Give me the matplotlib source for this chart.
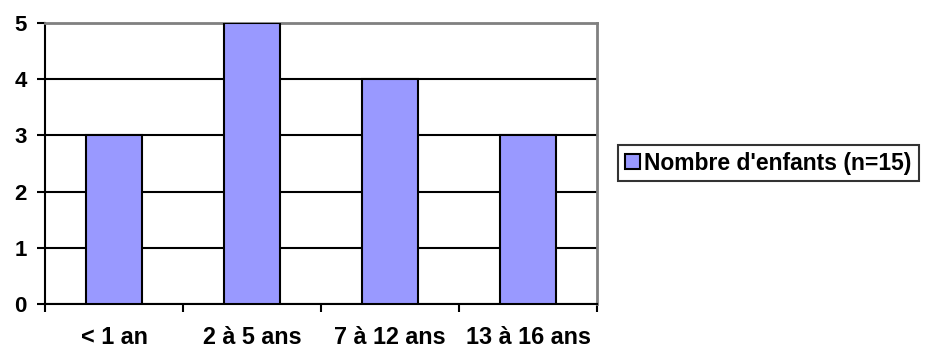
import numpy as np
import matplotlib.pyplot as plt
from matplotlib.ticker import FixedLocator

plt.rcParams['font.family'] = ['Liberation Sans', 'DejaVu Sans']

categories = ['< 1 an', '2 à 5 ans', '7 à 12 ans', '13 à 16 ans']
nombre = [3, 5, 4, 3]
serie = "Nombre d'enfants (n=15)"

fig = plt.figure(figsize=(9.25, 3.48), dpi=100)
ax = fig.add_axes([45/925, 44/348, 552/925, 281/348])

x = np.arange(len(categories))
bars = ax.bar(x, nombre, width=0.4, color='#9999FF', edgecolor='black',
              linewidth=1.5, zorder=3, label=serie)

ax.set_xlim(-0.5, len(categories) - 0.5)
ax.set_ylim(0, 5)
ax.set_yticks(range(0, 6))
ax.yaxis.grid(True, color='black', linewidth=1.5, zorder=0)
ax.set_axisbelow(True)

ax.set_xticks(x)
ax.set_xticklabels(categories, fontsize=16.8, fontweight='bold')
ax.xaxis.set_minor_locator(FixedLocator(np.arange(-0.5, len(categories), 1.0)))
ax.tick_params(axis='x', which='major', length=0, pad=16)
ax.tick_params(axis='x', which='minor', length=6, width=1.5, direction='out')
ax.tick_params(axis='y', length=6, width=1.5, pad=7, labelsize=16)
for t in ax.get_yticklabels():
    t.set_fontweight('bold')

for s in ['left', 'bottom']:
    ax.spines[s].set_color('black')
    ax.spines[s].set_linewidth(1.5)
for s in ['top', 'right']:
    ax.spines[s].set_color('#808080')
    ax.spines[s].set_linewidth(2)

leg = fig.legend(loc='center left', bbox_to_anchor=(618/925, 1 - 163/348),
                 frameon=True, fancybox=False, edgecolor='black',
                 prop={'weight': 'bold', 'size': 16.5}, handlelength=0.65,
                 handleheight=0.65, handletextpad=0.2, borderpad=0.3,
                 borderaxespad=0)
leg.get_frame().set_linewidth(1.5)

fig.savefig('out.png', dpi=100)
